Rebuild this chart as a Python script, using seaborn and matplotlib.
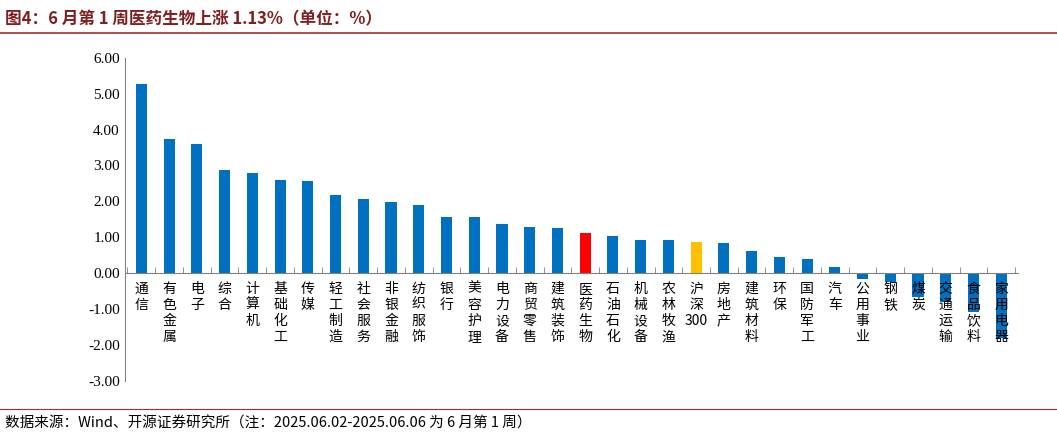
import matplotlib
matplotlib.use("Agg")
import matplotlib.pyplot as plt
import seaborn as sns
import pandas as pd

categories = ["通信","有色金属","电子","综合","计算机","基础化工","传媒","轻工制造","社会服务","非银金融",
              "纺织服饰","银行","美容护理","电力设备","商贸零售","建筑装饰","医药生物","石油石化","机械设备","农林牧渔",
              "沪深300","房地产","建筑材料","环保","国防军工","汽车","公用事业","钢铁","煤炭","交通运输","食品饮料","家用电器"]
values = [5.27,3.73,3.60,2.88,2.80,2.60,2.58,2.18,2.08,1.98,
          1.90,1.57,1.56,1.38,1.30,1.25,1.13,1.03,0.93,0.92,
          0.88,0.85,0.63,0.45,0.40,0.17,-0.15,-0.25,-0.65,-0.80,-1.08,-1.80]
yticks = [6,5,4,3,2,1,0,-1,-2,-3]

plt.rcParams["font.family"] = ["Noto Sans CJK SC"]
colors = ["#FF0000" if c=="医药生物" else "#FFC000" if c=="沪深300" else "#0070C0" for c in categories]
df = pd.DataFrame({"cat": categories, "val": values})

fig = plt.figure(figsize=(10.57, 4.37), dpi=100)
ax = fig.add_axes([0.118, 0.128, 0.845, 0.74])
sns.barplot(data=df, x="cat", y="val", hue="cat", palette=colors, legend=False, width=0.4,
            saturation=1, ax=ax)
ax.set_ylim(-3, 6)
ax.set_xlim(-0.6, len(categories)-0.4)
ax.set_yticks(yticks)
ax.set_yticklabels([f"{v:.2f}" for v in yticks], fontsize=11, fontfamily="Liberation Serif")
ax.set_xlabel(""); ax.set_ylabel("")
def lab(c):
    if c == "沪深300":
        return "沪\n深\n300"
    return "\n".join(c)
ax.set_xticks(range(len(categories)))
ax.set_xticklabels([lab(c) for c in categories], fontsize=10.5, linespacing=1.05, va="top")
ax.spines["bottom"].set_position(("data", 0))
ax.spines["top"].set_visible(False); ax.spines["right"].set_visible(False)
for s in ["bottom","left"]:
    ax.spines[s].set_color("#808080")
ax.tick_params(axis="x", which="major", length=0, pad=6)
ax.tick_params(axis="y", length=0)
ax.set_xticks([i+0.5 for i in range(-1, len(categories))], minor=True)
ax.tick_params(axis="x", which="minor", length=4, color="#808080", direction="in")

fig.text(0.005, 0.955, "图4：6 月第 1 周医药生物上涨 1.13%（单位：%）", fontsize=12, fontweight="bold", color="#7F1F1F", va="center")
fig.add_artist(plt.Line2D([0, 1], [0.925, 0.925], color="#A03030", lw=1.2))
fig.add_artist(plt.Line2D([0, 1], [0.063, 0.063], color="#A03030", lw=0.8))
fig.text(0.005, 0.03, "数据来源：Wind、开源证券研究所（注：2025.06.02-2025.06.06 为 6 月第 1 周）", fontsize=10.5, va="center")
fig.savefig("out.png", dpi=100)
